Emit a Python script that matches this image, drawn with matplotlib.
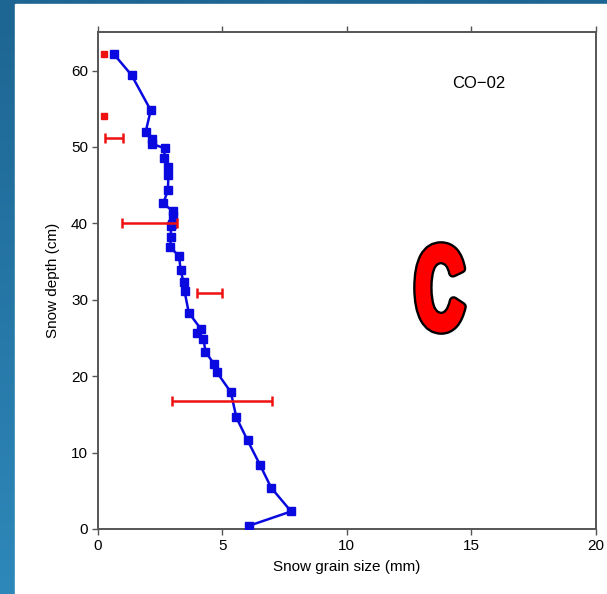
import numpy as np
import matplotlib
matplotlib.use("Agg")
import matplotlib.pyplot as plt
from matplotlib.textpath import TextPath
from matplotlib.font_manager import FontProperties
from matplotlib.patches import PathPatch
from matplotlib.transforms import Affine2D

plt.rcParams['font.family'] = ['Liberation Sans', 'DejaVu Sans']

# measured grain size profile (blue)
grain_mm = [0.66, 1.36, 2.13, 1.93, 2.17, 2.19, 2.71, 2.66, 2.84, 2.84, 2.82, 2.63,
            3.02, 3.03, 2.98, 2.94, 2.94, 2.91, 3.27, 3.33, 3.45, 3.49, 3.66, 4.14,
            4.00, 4.25, 4.33, 4.67, 4.79, 5.35, 5.57, 6.02, 6.52, 6.97, 7.77, 6.06]
depth_cm = [62.1, 59.4, 54.8, 52.0, 51.0, 50.4, 49.8, 48.6, 47.4, 46.3, 44.3, 42.6,
            41.6, 40.9, 39.9, 39.6, 38.2, 36.9, 35.7, 33.9, 32.3, 31.1, 28.3, 26.2,
            25.6, 24.9, 23.2, 21.6, 20.5, 17.9, 14.6, 11.6, 8.4, 5.4, 2.3, 0.4]

# field observations: single values (red squares) and ranges (red bars)
point_mm = [0.25, 0.25]
point_cm = [62.1, 54.0]
range_mm = [0.65, 2.09, 4.49, 5.0]
range_err = [0.37, 1.10, 0.51, 2.02]
range_cm = [51.2, 40.1, 30.9, 16.8]

W, H = 607, 594
fig = plt.figure(figsize=(W / 100, H / 100), dpi=100)

# blue slide background + white panel
bg = fig.add_axes([0, 0, 1, 1], zorder=-10)
grad = np.linspace(0, 1, 256).reshape(-1, 1)
bg.imshow(grad, aspect='auto', extent=[0, 1, 0, 1],
          cmap=matplotlib.colors.LinearSegmentedColormap.from_list('b', ['#1d6592', '#2e88ba']))
bg.add_patch(plt.Rectangle((15 / W, 0), 1, 1 - 4 / H, color='white', transform=bg.transAxes))
bg.set_xlim(0, 1)
bg.set_ylim(0, 1)
bg.axis('off')

ax = fig.add_axes([97.7 / W, (H - 529) / H, (595.5 - 97.7) / W, (529 - 32.3) / H])
ax.plot(grain_mm, depth_cm, color='#0a0ae0', lw=1.8, marker='s', ms=5.5, zorder=3)
ax.errorbar(range_mm, range_cm, xerr=range_err, fmt='none', ecolor='#ee1111',
            elinewidth=1.8, capsize=3.5, capthick=1.8, zorder=4)
ax.plot(point_mm, point_cm, 's', color='#ee1111', ms=4.5, zorder=4)

ax.set_xlim(0, 20)
ax.set_ylim(0, 65)
ax.set_xticks([0, 5, 10, 15, 20])
ax.set_yticks([0, 10, 20, 30, 40, 50, 60])
ax.tick_params(direction='out', length=4, width=1, color='#555555', labelsize=11,
               top=True, labeltop=False, pad=3)
for s in ax.spines.values():
    s.set_color('#555555')
    s.set_linewidth(1.4)
ax.set_xlabel('Snow grain size (mm)', fontsize=11, labelpad=5)
ax.set_ylabel('Snow depth (cm)', fontsize=11, labelpad=8)

ax.text(0.766, 0.896, 'CO\u221202', transform=ax.transAxes, ha='center', va='center',
        fontsize=12)

# big condensed red "C" with black outline, fitted to its box in pixels
tp = TextPath((0, 0), 'C', size=100, prop=FontProperties(family='Liberation Sans', weight='bold'))
bb = tp.get_extents()
x0, x1, ytop, ybot = 418, 462, 246, 330
tr = (Affine2D().translate(-bb.x0, -bb.y0)
      .scale((x1 - x0) / bb.width / W, (ybot - ytop) / bb.height / H)
      .translate(x0 / W, (H - ybot) / H)) + fig.transFigure
fig.patches.append(PathPatch(tp, transform=tr, facecolor='black', edgecolor='black',
                             lw=7, joinstyle='round', figure=fig))
fig.patches.append(PathPatch(tp, transform=tr, facecolor='#ff0000', edgecolor='#ff0000',
                             lw=3.6, joinstyle='round', figure=fig))

fig.savefig('out.png', dpi=100)
